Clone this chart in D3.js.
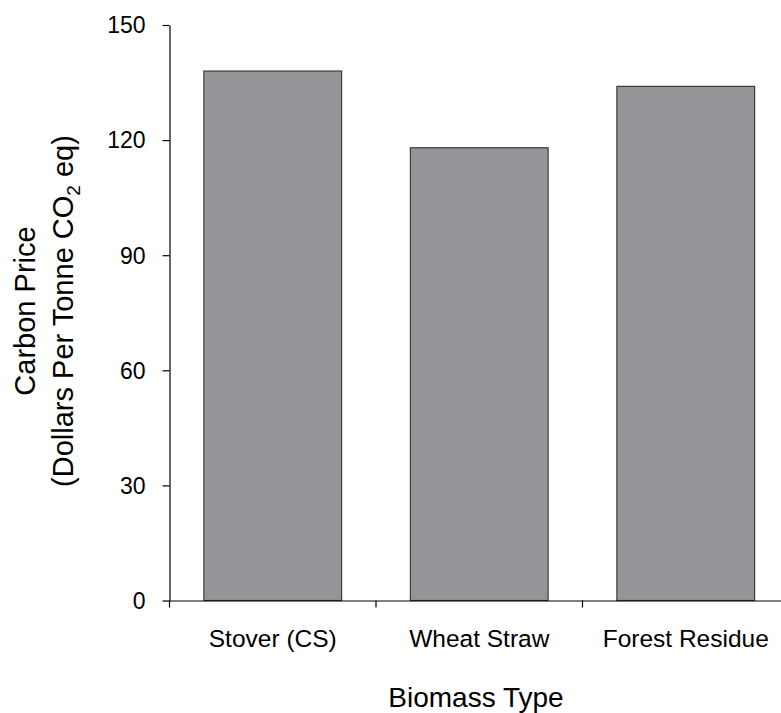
<!DOCTYPE html>
<html>
<head>
<meta charset="utf-8">
<script src="https://cdn.jsdelivr.net/npm/d3@7"></script>
<style>
  body { margin: 0; background: #fff; }
  text { font-family: "Liberation Sans", Arial, Helvetica, sans-serif; fill: #000; }
</style>
</head>
<body>
<div id="chart-area"></div>
<script>
// chart data
var categories = ["Stover (CS)", "Wheat Straw", "Forest Residue"];
var prices = [138, 118, 134];
var yTicks = [0, 30, 60, 90, 120, 150];

var width = 781, height = 713;
// plot box (note: "top" is reserved on window, so use margin object)
var margin = { left: 169.5, top: 25, bottom: 600.5 };
var step = 206.5;

var svg = d3.select("#chart-area")
    .append("svg")
        .attr("width", width)
        .attr("height", height);

// scales
var x = d3.scaleBand()
    .domain(categories)
    .range([margin.left, margin.left + step * categories.length])
    .paddingInner(0.333)
    .paddingOuter(0.1665);
var y = d3.scaleLinear()
    .domain([0, 150])
    .range([margin.bottom, margin.top]);

// bars
svg.selectAll("rect.bar")
    .data(prices)
    .enter()
    .append("rect")
        .attr("class", "bar")
        .attr("x", function(d, i) { return x(categories[i]); })
        .attr("y", function(d) { return y(d); })
        .attr("width", x.bandwidth())
        .attr("height", function(d) { return y(0) - y(d); })
        .attr("fill", "#939598")
        .attr("stroke", "#3c3c3c")
        .attr("stroke-width", 1.2);

// y axis
var yAxis = svg.append("g")
    .attr("transform", "translate(" + margin.left + ",0)")
    .call(d3.axisLeft(y).tickValues(yTicks).tickSize(7).tickSizeOuter(0).tickPadding(17));
yAxis.selectAll("text").attr("font-size", "23px").attr("dy", "0.34em");

// x axis: line, boundary ticks, labels
var xAxis = svg.append("g")
    .attr("transform", "translate(0," + margin.bottom + ")")
    .call(d3.axisBottom(x).tickSize(0).tickSizeOuter(0).tickPadding(46));
xAxis.selectAll("text").attr("font-size", "24.5px").attr("dy", "0");
var bounds = d3.range(categories.length + 1).map(function(i) { return margin.left + i * step; });
xAxis.selectAll("line.bound")
    .data(bounds)
    .enter()
    .append("line")
        .attr("class", "bound")
        .attr("x1", function(d) { return d; })
        .attr("x2", function(d) { return d; })
        .attr("y1", 0)
        .attr("y2", 7);

svg.selectAll(".domain, .tick line, line.bound").attr("stroke", "#000").attr("stroke-width", 1.2);

// axis titles
svg.append("text")
    .attr("x", 476)
    .attr("y", 707)
    .attr("text-anchor", "middle")
    .attr("font-size", "28px")
    .text("Biomass Type");

var yTitle = svg.append("text")
    .attr("transform", "translate(35,311) rotate(-90)")
    .attr("text-anchor", "middle")
    .attr("font-size", "29px");
yTitle.append("tspan")
    .attr("x", 0)
    .attr("y", 0)
    .text("Carbon Price");
yTitle.append("tspan")
    .attr("x", 0)
    .attr("y", 38)
    .text("(Dollars Per Tonne CO");
yTitle.append("tspan")
    .attr("dy", 7)
    .attr("font-size", "19px")
    .text("2");
yTitle.append("tspan")
    .attr("dy", -7)
    .text(" eq)");
</script>
</body>
</html>
